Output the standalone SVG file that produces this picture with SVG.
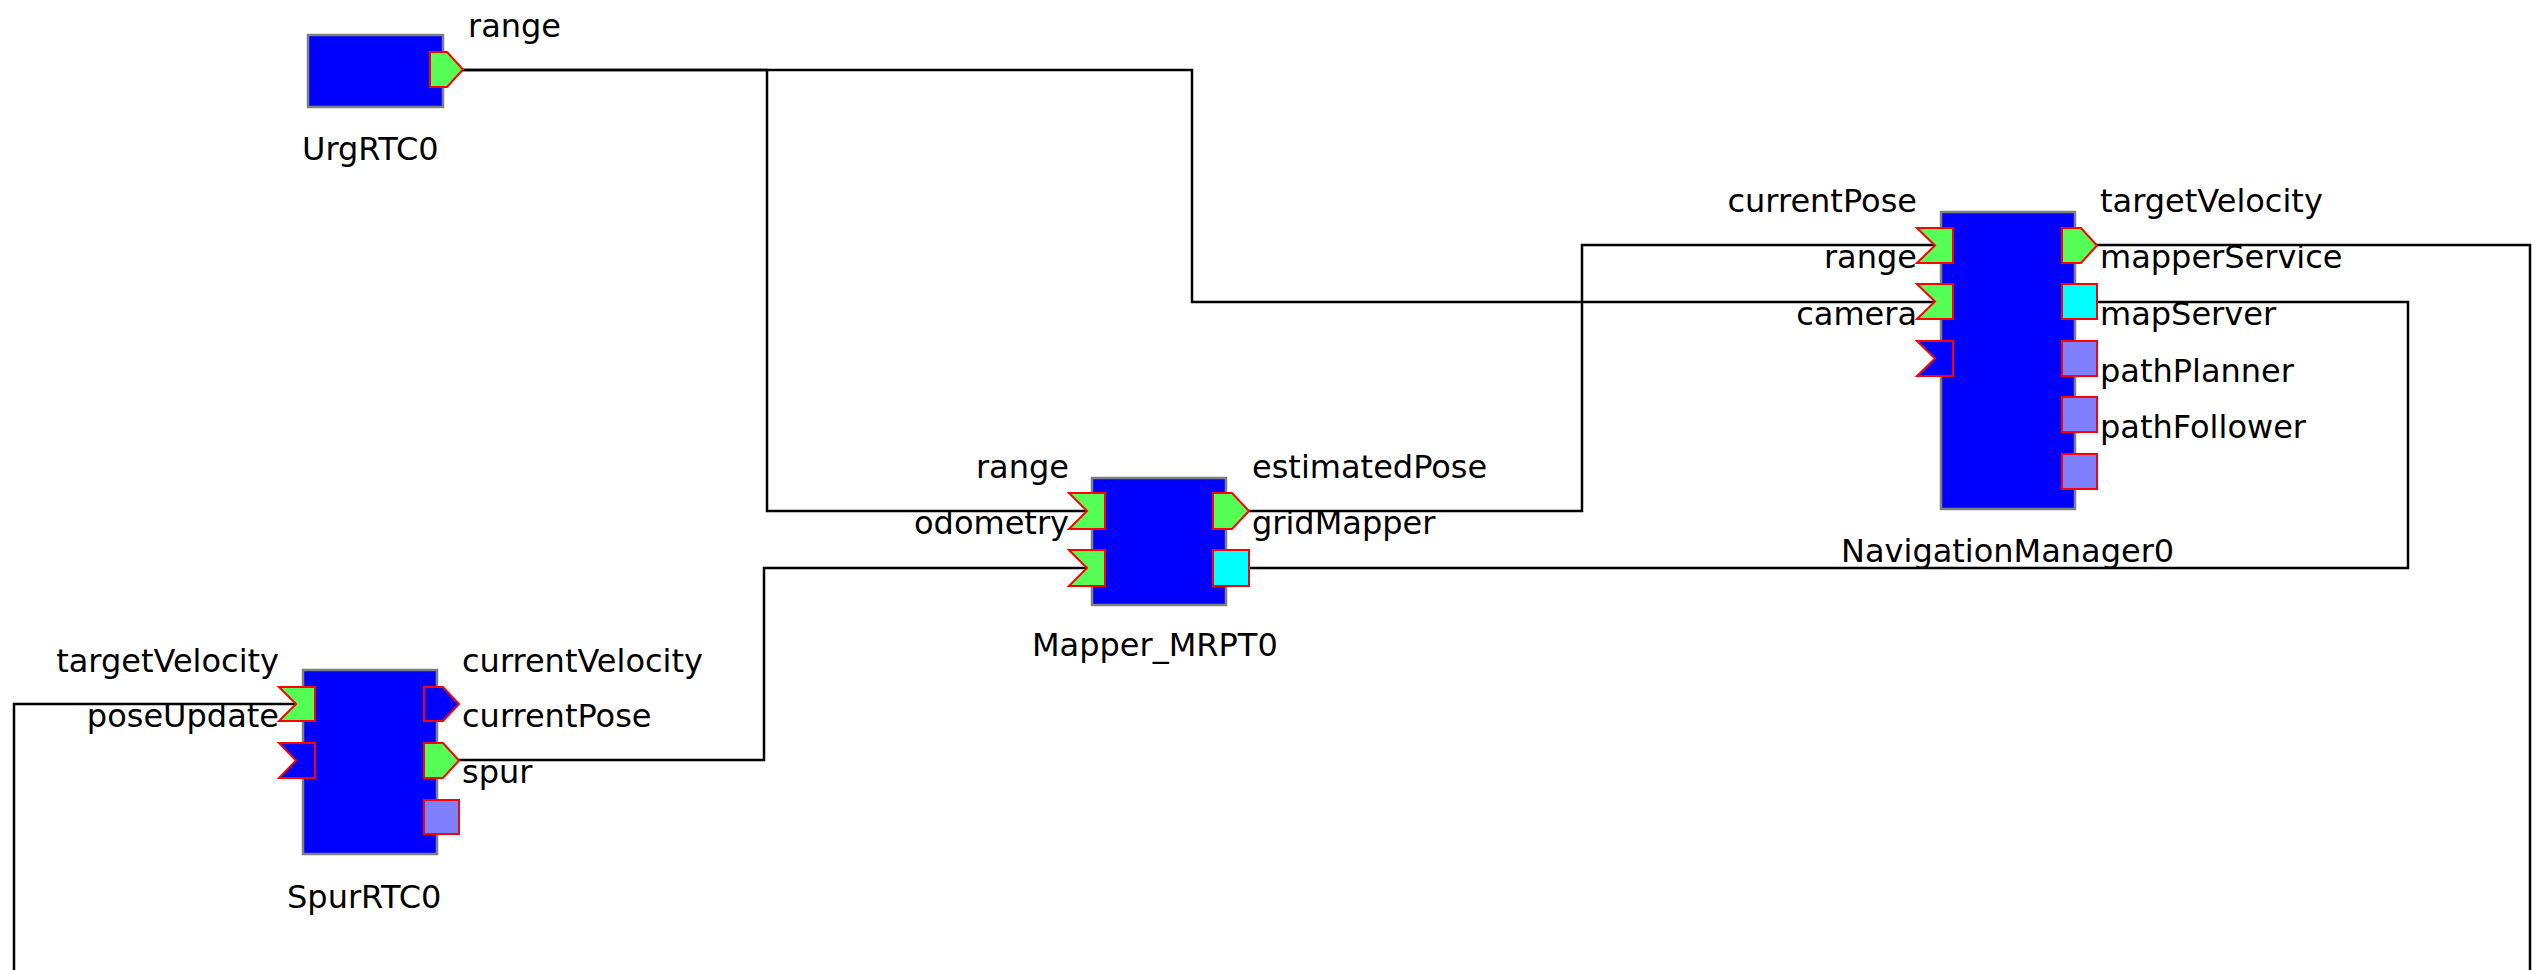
<svg xmlns="http://www.w3.org/2000/svg" width="2541" height="970" viewBox="0 0 2541 970">
  <style>
    .comp { fill: #0000ff; stroke: #808080; stroke-width: 2.5; }
    .port { stroke: #ff0000; stroke-width: 2; }
    .data { fill: #55ff55; }
    .idle { fill: #0000ff; }
    .svc  { fill: #00ffff; }
    .free { fill: #8080ff; }
    .lbl  { font-family: "DejaVu Sans", "Liberation Sans", sans-serif; font-size: 32px; fill: #000000; }
    .end  { text-anchor: end; }
    .wire { fill: none; stroke: #000000; stroke-width: 2.5; }
  </style>
  <rect x="0" y="0" width="2541" height="970" fill="#ffffff"/>

  <!-- connectors -->
  <g id="connectors">
    <polyline class="wire" points="447,70 767,70 767,511 1087,511"/>
    <polyline class="wire" points="447,70 1192,70 1192,302 1936,302"/>
    <polyline class="wire" points="1230,511 1582,511 1582,245 1936,245"/>
    <polyline class="wire" points="2079,302 2408,302 2408,568 1230,568"/>
    <polyline class="wire" points="2079,245 2530,245 2530,1010 14,1010 14,704 296,704"/>
    <polyline class="wire" points="440,760 764,760 764,568 1087,568"/>
  </g>

  <!-- UrgRTC0 -->
  <g id="UrgRTC0">
    <rect class="comp" x="308" y="35" width="135" height="72"/>
    <polygon class="port data" points="430,52 447,52 463,69.5 447,87 430,87"/>
    <text class="lbl" x="468" y="37">range</text>
    <text class="lbl" x="302" y="160">UrgRTC0</text>
  </g>

  <!-- Mapper_MRPT0 -->
  <g id="Mapper_MRPT0">
    <rect class="comp" x="1092" y="478" width="134" height="127"/>
    <polygon class="port data" points="1069,493 1105,493 1105,529 1069,529 1087,511"/>
    <polygon class="port data" points="1069,550 1105,550 1105,586 1069,586 1087,568"/>
    <polygon class="port data" points="1213,493 1232,493 1249,511 1232,529 1213,529"/>
    <rect class="port svc" x="1213" y="550" width="36" height="36"/>
    <text class="lbl end" x="1069" y="478">range</text>
    <text class="lbl end" x="1069" y="534">odometry</text>
    <text class="lbl" x="1252" y="478">estimatedPose</text>
    <text class="lbl" x="1252" y="534">gridMapper</text>
    <text class="lbl" x="1032" y="656">Mapper_MRPT0</text>
  </g>

  <!-- NavigationManager0 -->
  <g id="NavigationManager0">
    <rect class="comp" x="1941" y="212" width="134" height="297"/>
    <polygon class="port data" points="1917,228 1953,228 1953,263 1917,263 1935,245.5"/>
    <polygon class="port data" points="1917,284 1953,284 1953,319 1917,319 1935,301.5"/>
    <polygon class="port idle" points="1917,341 1953,341 1953,376 1917,376 1935,358.5"/>
    <polygon class="port data" points="2062,228 2081,228 2097,245.5 2081,263 2062,263"/>
    <rect class="port svc" x="2062" y="284" width="35" height="35"/>
    <rect class="port free" x="2062" y="341" width="35" height="35"/>
    <rect class="port free" x="2062" y="397" width="35" height="35"/>
    <rect class="port free" x="2062" y="454" width="35" height="35"/>
    <text class="lbl end" x="1917" y="212">currentPose</text>
    <text class="lbl end" x="1917" y="268">range</text>
    <text class="lbl end" x="1917" y="325">camera</text>
    <text class="lbl" x="2100" y="212">targetVelocity</text>
    <text class="lbl" x="2100" y="268">mapperService</text>
    <text class="lbl" x="2100" y="325">mapServer</text>
    <text class="lbl" x="2100" y="382">pathPlanner</text>
    <text class="lbl" x="2100" y="438">pathFollower</text>
    <text class="lbl" x="1841" y="562">NavigationManager0</text>
  </g>

  <!-- SpurRTC0 -->
  <g id="SpurRTC0">
    <rect class="comp" x="303" y="670" width="134" height="184"/>
    <polygon class="port data" points="279,687 315,687 315,721 279,721 296,704"/>
    <polygon class="port idle" points="279,743 315,743 315,778 279,778 296,760.5"/>
    <polygon class="port idle" points="424,687 443,687 459,704 443,721 424,721"/>
    <polygon class="port data" points="424,743 443,743 459,760.5 443,778 424,778"/>
    <rect class="port free" x="424" y="800" width="35" height="34"/>
    <text class="lbl end" x="279" y="672">targetVelocity</text>
    <text class="lbl end" x="279" y="727">poseUpdate</text>
    <text class="lbl" x="462" y="672">currentVelocity</text>
    <text class="lbl" x="462" y="727">currentPose</text>
    <text class="lbl" x="462" y="783">spur</text>
    <text class="lbl" x="287" y="908">SpurRTC0</text>
  </g>
</svg>
